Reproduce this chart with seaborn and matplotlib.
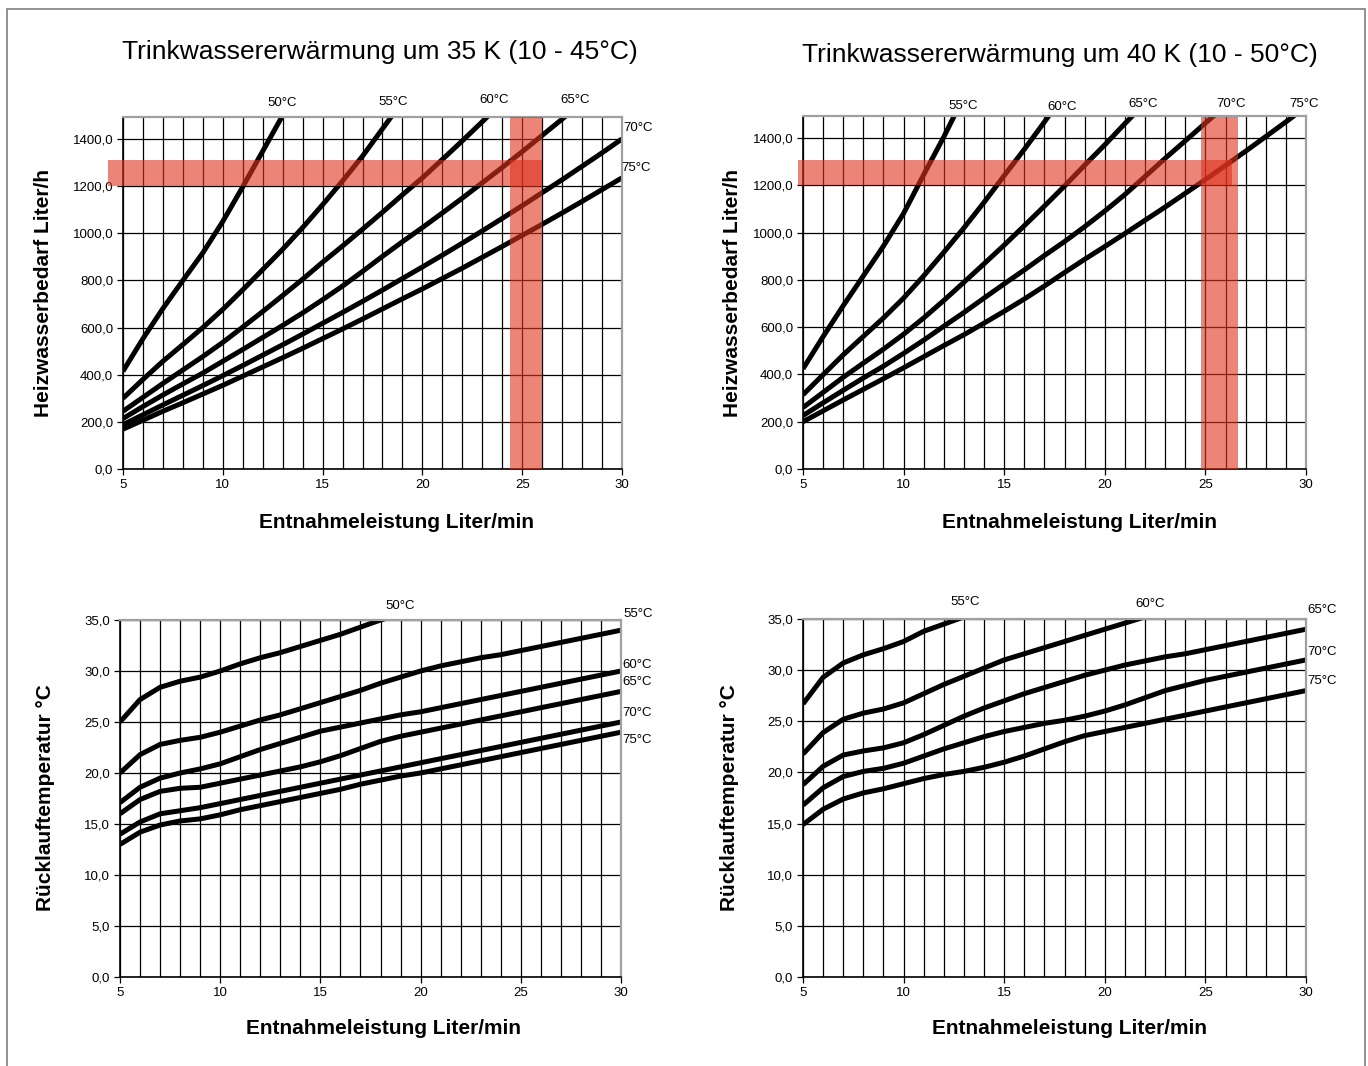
import matplotlib
matplotlib.use("Agg")
import matplotlib.pyplot as plt
from matplotlib.patches import Rectangle
from matplotlib.ticker import MultipleLocator, FuncFormatter
import seaborn as sns
import pandas as pd

# ---------------- data ----------------
x = list(range(5, 31))  # Entnahmeleistung Liter/min

labels = ["50°C", "55°C", "60°C", "65°C", "70°C", "75°C"]
labels40 = ["55°C", "60°C", "65°C", "70°C", "75°C"]

# Heizwasserbedarf Liter/h, 35 K
hw35_50 = [415, 553, 681, 800, 917, 1050, 1197, 1348, 1500, 1640]
hw35_55 = [300, 380, 457, 528, 600, 677, 760, 846, 932, 1024, 1121, 1222, 1327, 1443, 1559]
hw35_60 = [245, 304, 363, 420, 477, 537, 602, 668, 736, 805, 877, 946, 1017, 1089, 1163,
           1235, 1313, 1392, 1473, 1556]
hw35_65 = [214, 265, 314, 361, 407, 457, 507, 558, 609, 662, 718, 776, 838, 902, 964,
           1024, 1086, 1149, 1214, 1279, 1346, 1415, 1484, 1556]
hw35_70 = [188, 230, 272, 313, 354, 396, 439, 483, 527, 572, 618, 664, 711, 759, 808,
           857, 907, 958, 1010, 1063, 1117, 1172, 1227, 1284, 1341, 1400]
hw35_75 = [169, 207, 245, 281, 318, 355, 394, 433, 472, 512, 553, 594, 636, 679, 722,
           764, 808, 852, 898, 944, 991, 1038, 1086, 1135, 1185, 1235]

# Heizwasserbedarf Liter/h, 40 K
hw40_55 = [424, 560, 691, 817, 943, 1081, 1245, 1405, 1576]
hw40_60 = [314, 399, 483, 561, 639, 723, 817, 917, 1020, 1128, 1241, 1352, 1468, 1588]
hw40_65 = [260, 324, 388, 448, 507, 570, 639, 713, 790, 868, 947, 1029, 1112, 1197, 1285,
           1371, 1461, 1548]
hw40_70 = [226, 280, 333, 385, 435, 489, 545, 604, 662, 723, 783, 842, 903, 962, 1025,
           1091, 1161, 1237, 1314, 1388, 1463, 1537]
hw40_75 = [200, 246, 292, 337, 382, 428, 475, 522, 568, 617, 667, 719, 774, 831, 887,
           941, 996, 1052, 1108, 1166, 1224, 1284, 1344, 1406, 1468, 1532]

# Rücklauftemperatur °C, 35 K
rt35_50 = [25.0, 27.2, 28.4, 29.0, 29.4, 30.0, 30.7, 31.3, 31.8, 32.4, 33.0, 33.6, 34.3, 35.0, 35.6]
rt35_55 = [20.0, 21.8, 22.8, 23.2, 23.5, 24.0, 24.6, 25.2, 25.7, 26.3, 26.9, 27.5, 28.1, 28.8,
           29.4, 30.0, 30.5, 30.9, 31.3, 31.6, 32.0, 32.4, 32.8, 33.2, 33.6, 34.0]
rt35_60 = [17.1, 18.6, 19.5, 20.0, 20.4, 20.9, 21.6, 22.3, 22.9, 23.5, 24.1, 24.5, 24.9, 25.3,
           25.7, 26.0, 26.4, 26.8, 27.2, 27.6, 28.0, 28.4, 28.8, 29.2, 29.6, 30.0]
rt35_65 = [16.0, 17.4, 18.2, 18.5, 18.6, 19.0, 19.4, 19.8, 20.2, 20.6, 21.1, 21.7, 22.4, 23.1,
           23.6, 24.0, 24.4, 24.8, 25.2, 25.6, 26.0, 26.4, 26.8, 27.2, 27.6, 28.0]
rt35_70 = [14.0, 15.2, 16.0, 16.3, 16.6, 17.0, 17.4, 17.8, 18.2, 18.6, 19.0, 19.4, 19.8, 20.2,
           20.6, 21.0, 21.4, 21.8, 22.2, 22.6, 23.0, 23.4, 23.8, 24.2, 24.6, 25.0]
rt35_75 = [13.0, 14.2, 14.9, 15.3, 15.5, 15.9, 16.4, 16.8, 17.2, 17.6, 18.0, 18.4, 18.9, 19.3,
           19.7, 20.0, 20.4, 20.8, 21.2, 21.6, 22.0, 22.4, 22.8, 23.2, 23.6, 24.0]

# Rücklauftemperatur °C, 40 K
rt40_55 = [26.7, 29.3, 30.7, 31.5, 32.1, 32.8, 33.8, 34.5, 35.2]
rt40_60 = [21.8, 23.9, 25.2, 25.8, 26.2, 26.8, 27.7, 28.6, 29.4, 30.2, 31.0, 31.6, 32.2, 32.8,
           33.4, 34.0, 34.6, 35.2]
rt40_65 = [18.8, 20.6, 21.7, 22.1, 22.4, 22.9, 23.7, 24.6, 25.5, 26.3, 27.0, 27.7, 28.3, 28.9,
           29.5, 30.0, 30.5, 30.9, 31.3, 31.6, 32.0, 32.4, 32.8, 33.2, 33.6, 34.0]
rt40_70 = [16.8, 18.5, 19.6, 20.1, 20.4, 20.9, 21.6, 22.3, 22.9, 23.5, 24.0, 24.4, 24.8, 25.1,
           25.5, 26.0, 26.6, 27.3, 28.0, 28.5, 29.0, 29.4, 29.8, 30.2, 30.6, 31.0]
rt40_75 = [14.9, 16.4, 17.4, 18.0, 18.4, 18.9, 19.4, 19.8, 20.1, 20.5, 21.0, 21.6, 22.3, 23.0,
           23.6, 24.0, 24.4, 24.8, 25.2, 25.6, 26.0, 26.4, 26.8, 27.2, 27.6, 28.0]

titles = ["Trinkwassererwärmung um 35 K (10 - 45°C)", "Trinkwassererwärmung um 40 K (10 - 50°C)"]
xlabel = "Entnahmeleistung Liter/min"
ylabel_top = "Heizwasserbedarf Liter/h"
ylabel_bot = "Rücklauftemperatur °C"

# ---------------- style ----------------
sns.set_theme(style="white")
plt.rcParams["font.family"] = ["Liberation Sans", "DejaVu Sans"]
plt.rcParams["text.color"] = "black"
plt.rcParams["axes.labelcolor"] = "black"
plt.rcParams["xtick.color"] = "black"
plt.rcParams["ytick.color"] = "black"

W, H = 1368, 1066
fig = plt.figure(figsize=(W / 100, H / 100), dpi=100)


def ax_px(l, t, r, b):
    return fig.add_axes([l / W, 1 - b / H, (r - l) / W, (b - t) / H])


ax_tl = ax_px(123, 117, 622, 469)
ax_tr = ax_px(803, 116, 1306, 469)
ax_bl = ax_px(120, 620, 621, 977)
ax_br = ax_px(803, 619, 1306, 977)

LW = 3.6
BAND = (0.88, 0.20, 0.12)
BAND_A = 0.6


def draw(ax, series, ymax, ystep, fmt):
    for ys in series:
        df = pd.DataFrame({"x": x[:len(ys)], "y": ys})
        sns.lineplot(data=df, x="x", y="y", ax=ax, color="black", lw=LW,
                     legend=False, zorder=2, solid_capstyle="butt",
                     solid_joinstyle="round")
    ax.set_xlim(5, 30)
    ax.set_ylim(0, ymax)
    ax.xaxis.set_major_locator(MultipleLocator(5))
    ax.xaxis.set_minor_locator(MultipleLocator(1))
    ax.yaxis.set_major_locator(MultipleLocator(ystep))
    ax.yaxis.set_major_formatter(FuncFormatter(lambda v, p: fmt(v)))
    ax.grid(True, which="both", axis="x", color="black", lw=0.9)
    ax.grid(True, which="major", axis="y", color="black", lw=0.9)
    ax.set_axisbelow(True)
    for s in ["top", "right"]:
        ax.spines[s].set_color("#a0a0a0")
        ax.spines[s].set_linewidth(1.6)
    for s in ["left", "bottom"]:
        ax.spines[s].set_color("black")
        ax.spines[s].set_linewidth(1.2)
    ax.tick_params(axis="both", which="major", labelsize=9.5, length=4, width=0.9,
                   direction="out", colors="black", labelcolor="black", pad=3,
                   bottom=True, left=True)
    ax.tick_params(axis="both", which="minor", length=0)
    ax.set_xlabel("")
    ax.set_ylabel("")


fmt = lambda v: f"{v:.1f}".replace(".", ",")
draw(ax_tl, [hw35_50, hw35_55, hw35_60, hw35_65, hw35_70, hw35_75], 1493, 200, fmt)
draw(ax_tr, [hw40_55, hw40_60, hw40_65, hw40_70, hw40_75], 1493, 200, fmt)
draw(ax_bl, [rt35_50, rt35_55, rt35_60, rt35_65, rt35_70, rt35_75], 35, 5, fmt)
draw(ax_br, [rt40_55, rt40_60, rt40_65, rt40_70, rt40_75], 35, 5, fmt)

# red marker bands
ax_tl.add_patch(Rectangle((4.25, 1200), 26.0 - 4.25, 110, color=BAND, alpha=BAND_A,
                          lw=0, zorder=3, clip_on=False))
ax_tl.add_patch(Rectangle((24.37, 0), 26.0 - 24.37, 1493, color=BAND, alpha=BAND_A,
                          lw=0, zorder=3, clip_on=False))
ax_tr.add_patch(Rectangle((4.73, 1200), 26.33 - 4.73, 105, color=BAND, alpha=BAND_A,
                          lw=0, zorder=3, clip_on=False))
ax_tr.add_patch(Rectangle((24.77, 0), 26.63 - 24.77, 1490, color=BAND, alpha=BAND_A,
                          lw=0, zorder=3, clip_on=False))

# curve labels
LS = 9.5
lab_tl = [(12.97, 1553), (18.53, 1557), (23.59, 1566), (27.65, 1566), (30.8, 1447), (30.7, 1277)]
lab_tr = [(12.95, 1534), (17.87, 1530), (21.9, 1542), (26.27, 1542), (29.9, 1542)]
lab_bl = [(18.97, 36.4), (30.85, 35.6), (30.8, 30.6), (30.8, 28.9), (30.8, 25.9), (30.8, 23.2)]
lab_br = [(13.05, 36.7), (22.25, 36.5), (30.8, 35.9), (30.8, 31.8), (30.8, 28.9)]
for ax, labs, pos in [(ax_tl, labels, lab_tl), (ax_tr, labels40, lab_tr),
                      (ax_bl, labels, lab_bl), (ax_br, labels40, lab_br)]:
    for t, (px, py) in zip(labs, pos):
        ax.text(px, py, t, fontsize=LS, ha="center", va="center", clip_on=False,
                color="black")

# titles and axis labels
fig.text(380 / W, 1 - 52 / H, titles[0], fontsize=19, ha="center", va="center")
fig.text(1060 / W, 1 - 55 / H, titles[1], fontsize=19, ha="center", va="center")
for cx, cy in [(397, 522), (1080, 522), (384, 1029), (1070, 1029)]:
    fig.text(cx / W, 1 - cy / H, xlabel, fontsize=15, fontweight="bold",
             ha="center", va="center")
fig.text(44 / W, 1 - 293 / H, ylabel_top, fontsize=15, fontweight="bold",
         rotation=90, ha="center", va="center")
fig.text(733 / W, 1 - 293 / H, ylabel_top, fontsize=15, fontweight="bold",
         rotation=90, ha="center", va="center")
fig.text(46 / W, 1 - 798 / H, ylabel_bot, fontsize=15, fontweight="bold",
         rotation=90, ha="center", va="center")
fig.text(730 / W, 1 - 798 / H, ylabel_bot, fontsize=15, fontweight="bold",
         rotation=90, ha="center", va="center")

# outer frame
fig.add_artist(Rectangle((7 / W, -0.02), (1365 - 7) / W, 1 - 9 / H + 0.02,
                         transform=fig.transFigure, fill=False, edgecolor="#7f7f7f", lw=1.2))

fig.savefig("out.png", dpi=100, facecolor="white")
